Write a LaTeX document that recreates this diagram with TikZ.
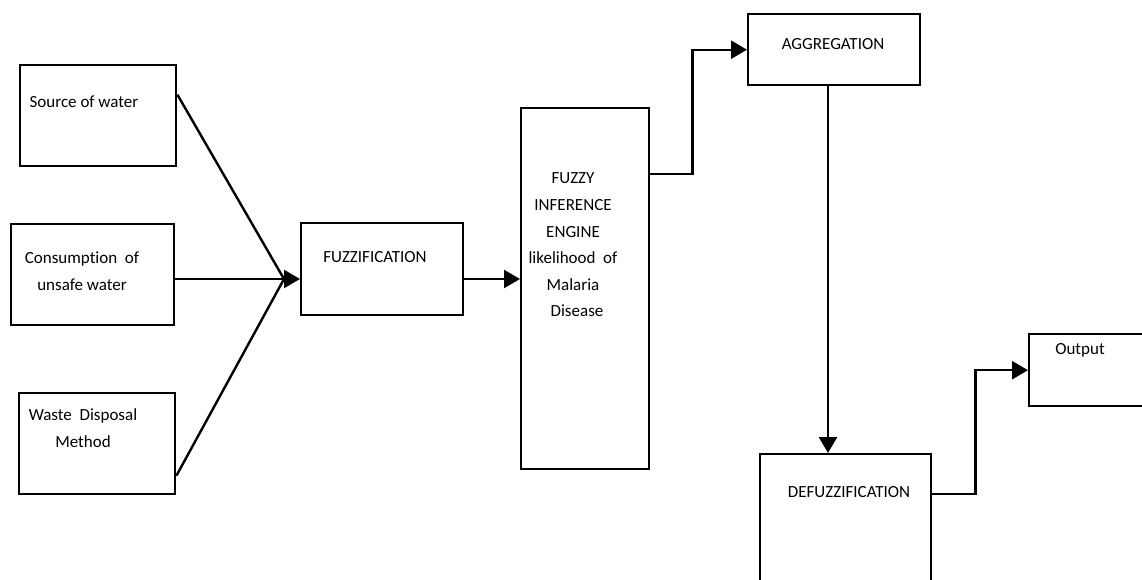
\documentclass[tikz,border=0pt]{standalone}
\usepackage{fontspec}
\setmainfont[Ligatures=NoCommon]{Carlito}
\usetikzlibrary{arrows.meta}
\begin{document}
\begin{tikzpicture}[x=1pt,y=-1pt,
 box/.style={draw,line width=2.4pt,inner sep=0pt,anchor=north west},
 txt/.style={font=\fontsize{17}{27}\selectfont,inner sep=0pt,align=center},
 conn/.style={line width=2.4pt},
 arr/.style={line width=2.4pt,-{Triangle[length=16pt,width=18pt]}}]
\useasboundingbox (0,0) rectangle (1142,579);
\clip (0,0) rectangle (1142,579);
% boxes
\node[box,minimum width=156pt,minimum height=101pt] (src) at (19,64) {};
\node[box,minimum width=163pt,minimum height=101pt] (cons) at (10,223) {};
\node[box,minimum width=156pt,minimum height=101pt] (waste) at (18,392) {};
\node[box,minimum width=162pt,minimum height=92pt] (fuzz) at (300,222) {};
\node[box,minimum width=128pt,minimum height=361pt] (fie) at (520,107) {};
\node[box,minimum width=172pt,minimum height=71pt] (agg) at (747,13) {};
\node[box,minimum width=171pt,minimum height=150pt] (defuzz) at (759,453) {};
\node[box,minimum width=150pt,minimum height=72pt] (out) at (1028,333) {};
% texts
\node[txt] (t1) at (84,102) {Source of water};
\node[txt] (t2) at (82,271) {Consumption~~of\\unsafe water};
\node[txt] (t3) at (83,428) {Waste~~Disposal\\Method};
\node[txt] (t4) at (375,257) {FUZZIFICATION};
\node[txt,font=\fontsize{17}{26.6}\selectfont] (t5) at (573,245) {FUZZY\\INFERENCE\\ENGINE\\likelihood~~of\\Malaria\\\hspace*{8pt}Disease};
\node[txt] (t6) at (833,44) {AGGREGATION};
\node[txt] (t7) at (849,492) {DEFUZZIFICATION};
\node[txt] (t8) at (1080,350) {Output};
% connectors
\coordinate (conv) at (284,279);
\coordinate (vx) at (828,0);
\draw[conn] ([yshift=21pt]src.east) -- (conv);
\draw[conn] (cons.east |- conv) -- (conv);
\draw[conn] ([yshift=-32pt]waste.east) -- (conv);
\draw[arr] (conv) -- (fuzz.west |- conv);
\draw[arr] (fuzz.east |- conv) -- (fie.west |- conv);
\draw[arr] ([yshift=115pt]fie.east) -- ++(42,0) |- (agg.west);
\draw[arr] (agg.south -| vx) -- (defuzz.north -| vx);
\draw[arr] ([yshift=35pt]defuzz.east) -- ++(43,0) |- (out.west);
\end{tikzpicture}
\end{document}
